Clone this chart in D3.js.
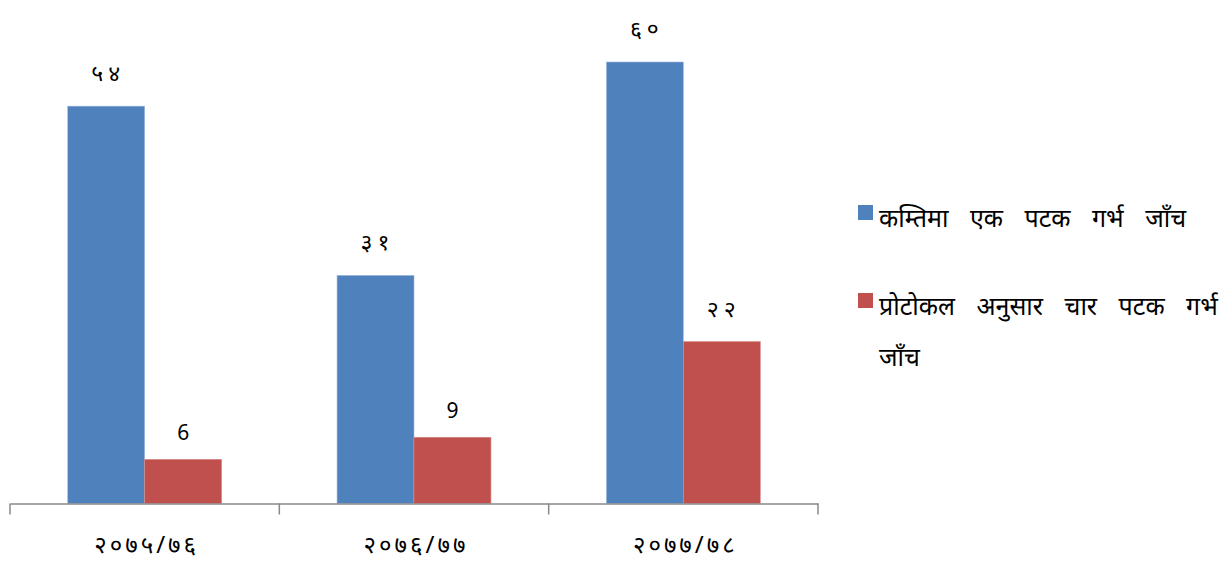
<!DOCTYPE html>
<html>
<head>
<meta charset="utf-8">
<script src="https://cdn.jsdelivr.net/npm/d3@7"></script>
<style>
  body { margin: 0; background: #fff; }
  text { font-family: "Noto Sans", "DejaVu Sans", sans-serif; fill: #000; }
</style>
</head>
<body>
<div id="chart"></div>
<script>
// data
const years = ["२०७५/७६", "२०७६/७७", "२०७७/७८"]
const series = ["कम्तिमा एक पटक गर्भ जाँच", "प्रोटोकल अनुसार चार पटक गर्भ जाँच"]
const atLeastOnce = [54, 31, 60]
const fourTimes = [6, 9, 22]
const onceLabels = ["५४", "३१", "६०"]
const fourLabels = ["6", "9", "२२"]
const colors = ["#4F81BD", "#C0504D"]

const width = 1229
const height = 563
const margin = { top: 62, bottom: 59.5, left: 10, right: 411 }

const svg = d3.select("div#chart").append("svg").attr("width", width).attr("height", height)

const x0 = d3.scaleBand().domain(years).range([margin.left, width - margin.right]).padding(0)
const x1 = d3.scaleBand().domain([0, 1]).range([0, x0.bandwidth()]).paddingInner(0).paddingOuter(0.75)
const y = d3.scaleLinear().domain([0, 60]).range([height - margin.bottom, margin.top])

const rows = years.map((yr, i) => ({
    year: yr,
    vals: [
        { s: 0, v: atLeastOnce[i], label: onceLabels[i] },
        { s: 1, v: fourTimes[i], label: fourLabels[i] }
    ]
}))

const groups = svg.append("g").attr("class", "bars")
    .selectAll("g").data(rows).join("g")
    .attr("transform", d => `translate(${x0(d.year)},0)`)

groups.selectAll("rect").data(d => d.vals).join("rect")
    .attr("x", d => x1(d.s))
    .attr("y", d => y(d.v))
    .attr("width", x1.bandwidth())
    .attr("height", d => y(0) - y(d.v))
    .attr("fill", d => colors[d.s])
    .attr("stroke", d => d.s === 0 ? "#9DB9E0" : "#D88A88")
    .attr("stroke-width", 0.6)

groups.selectAll("text.val").data(d => d.vals).join("text")
    .attr("class", "val")
    .attr("x", d => x1(d.s) + x1.bandwidth() / 2 + (d.label.length > 1 ? 2 : 0))
    .attr("y", d => y(d.v) - (d.label.length > 1 ? 25 : 19))
    .attr("text-anchor", "middle")
    .attr("font-size", d => d.label === "6" || d.label === "9" ? 21 : 23)
    .attr("letter-spacing", d => d.label.length > 1 ? 5 : 0)
    .text(d => d.label)

// x axis
const xAxis = d3.axisBottom(x0).tickSize(0).tickPadding(32).tickFormat(d => d)
const xAxisGroup = svg.append("g").attr("class", "xAxisGroup")
    .attr("transform", `translate(0, ${y(0)})`)
    .call(xAxis)
xAxisGroup.select(".domain").attr("stroke", "#888").attr("stroke-width", 1.5)
xAxisGroup.selectAll(".tick text").attr("font-size", 24).attr("letter-spacing", 3).attr("dx", 2)
    .attr("font-family", "Noto Sans, DejaVu Sans, sans-serif").attr("fill", "#000")

// category boundary ticks
const bounds = years.map(d => x0(d)).concat([x0(years[years.length - 1]) + x0.bandwidth()])
xAxisGroup.selectAll("line.bound").data(bounds).join("line")
    .attr("class", "bound")
    .attr("x1", d => d).attr("x2", d => d)
    .attr("y1", 0).attr("y2", 11)
    .attr("stroke", "#888").attr("stroke-width", 1.5)

// legend
const legend = svg.append("g").attr("class", "legend")
const legendY = [205, 293]
series.forEach((s, i) => {
    const g = legend.append("g").attr("transform", `translate(858, ${legendY[i]})`)
    g.append("rect").attr("width", 15).attr("height", 15).attr("fill", colors[i])
    const t = g.append("text").attr("x", 21).attr("y", 22).attr("font-size", 25).attr("word-spacing", 15)
    if (i === 1) {
        t.append("tspan").attr("x", 21).text("प्रोटोकल अनुसार चार पटक गर्भ")
        t.append("tspan").attr("x", 21).attr("dy", 51).text("जाँच")
    } else {
        t.text(s)
    }
})
</script>
</body>
</html>
